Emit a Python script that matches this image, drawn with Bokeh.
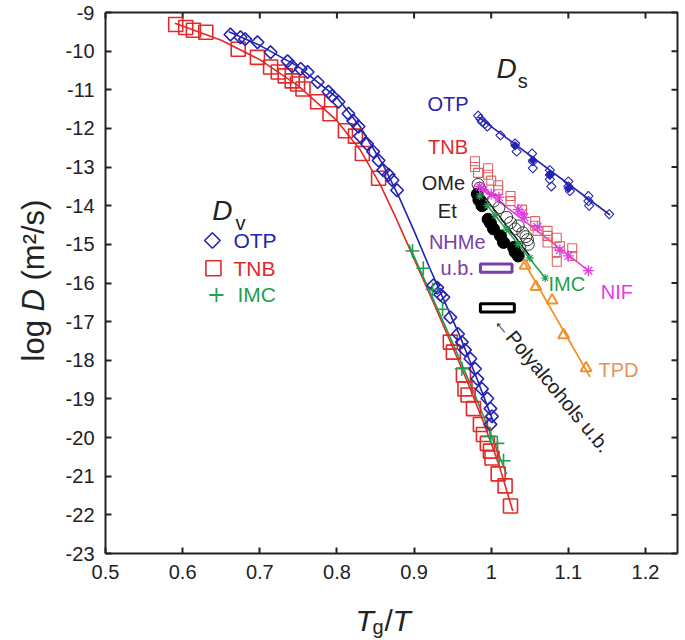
import numpy as np
from bokeh.plotting import figure
from bokeh.models import Label, FixedTicker, Range1d
from bokeh.embed import file_html
from bokeh.resources import INLINE

# ---------------- data ----------------
x_ticks = [0.5, 0.6, 0.7, 0.8, 0.9, 1.0, 1.1, 1.2]
x_tick_labels = ["0.5", "0.6", "0.7", "0.8", "0.9", "1", "1.1", "1.2"]
y_ticks = [-9, -10, -11, -12, -13, -14, -15, -16, -17, -18, -19, -20, -21, -22, -23]
y_tick_labels = ["-9", "-10", "-11", "-12", "-13", "-14", "-15", "-16", "-17", "-18",
                 "-19", "-20", "-21", "-22", "-23"]

# D_v : OTP (diamonds)
otp_v_x = [0.662, 0.675, 0.681, 0.697, 0.714, 0.736, 0.742, 0.753, 0.762, 0.775, 0.789,
           0.794, 0.802, 0.815, 0.821, 0.828, 0.830, 0.839, 0.847, 0.854, 0.860, 0.867,
           0.872, 0.878, 0.925, 0.930, 0.934, 0.938, 0.947, 0.957, 0.962, 0.966, 0.973,
           0.979, 0.982, 0.988, 0.995, 0.999, 1.001, 0.999]
otp_v_y = [-9.57, -9.64, -9.69, -9.77, -10.03, -10.26, -10.39, -10.46, -10.54, -10.80, -11.05,
           -11.16, -11.31, -11.62, -11.80, -11.95, -12.20, -12.40, -12.60, -12.83, -13.08, -13.20,
           -13.34, -13.60, -16.06, -16.12, -16.30, -16.37, -16.89, -17.32, -17.53, -17.73, -17.96,
           -18.22, -18.48, -18.74, -18.99, -19.25, -19.45, -19.66]
# D_v : TNB (squares)
tnb_v_x = [0.591, 0.604, 0.614, 0.630, 0.672, 0.697, 0.714, 0.724, 0.733, 0.742, 0.749,
           0.756, 0.775, 0.791, 0.811, 0.824, 0.833, 0.854, 0.947, 0.951, 0.964, 0.966,
           0.970, 0.977, 0.986, 0.990, 0.995, 0.999, 1.001, 1.009, 1.018, 1.025]
tnb_v_y = [-9.31, -9.39, -9.46, -9.51, -9.95, -10.16, -10.41, -10.54, -10.64, -10.77, -10.85,
           -10.98, -11.31, -11.62, -12.06, -12.20, -12.65, -13.29, -17.53, -17.79, -18.38, -18.74,
           -18.90, -19.25, -19.66, -19.92, -20.15, -20.35, -20.53, -20.94, -21.25, -21.77]
# D_v : IMC (crosses)
imc_v_x = [0.898, 0.912, 0.924, 0.937, 0.962, 0.999, 1.008, 1.016]
imc_v_y = [-15.17, -15.62, -16.17, -16.68, -18.22, -19.97, -20.15, -20.60]

# D_v fitted curves
otp_fit_x = [0.660, 0.700, 0.750, 0.800, 0.830, 0.860, 0.880, 0.900, 0.920, 0.940, 0.960, 0.980, 1.003]
otp_fit_y = [-9.50, -9.85, -10.40, -11.20, -11.95, -12.95, -13.75, -14.65, -15.60, -16.50, -17.40, -18.40, -19.60]
tnb_fit_x = [0.590, 0.650, 0.700, 0.750, 0.800, 0.830, 0.856, 0.875, 0.895, 0.925, 0.947, 0.968, 0.990, 1.010, 1.028]
tnb_fit_y = [-9.28, -9.72, -10.22, -10.90, -11.80, -12.55, -13.45, -14.25, -15.15, -16.50, -17.52, -18.50, -19.60, -20.70, -21.90]
imc_fit_x = [0.893, 0.920, 0.950, 0.980, 1.000, 1.020]
imc_fit_y = [-15.00, -16.20, -17.55, -18.95, -19.95, -20.95]

# D_s : OTP
otp_s_x = [0.983, 0.986, 0.988, 0.992, 0.995, 1.012, 1.031, 1.033, 1.053, 1.054, 1.054, 1.076,
           1.076, 1.076, 1.078, 1.100, 1.100, 1.102, 1.126, 1.126, 1.127, 1.153]
otp_s_y = [-11.67, -11.75, -11.83, -11.88, -11.95, -12.18, -12.39, -12.60, -12.65, -12.85, -13.03,
           -13.08, -13.20, -13.32, -13.50, -13.37, -13.50, -13.62, -13.75, -13.88, -14.00, -14.22]
otp_s_filled_x = [1.031, 1.054, 1.076, 1.100]
otp_s_filled_y = [-12.45, -12.82, -13.20, -13.55]
otp_s_fit_x = [0.983, 1.154]
otp_s_fit_y = [-11.70, -14.24]
# D_s : TNB
tnb_s_x = [0.979, 0.979, 0.983, 0.996, 0.996, 1.000, 1.009, 1.009, 1.025, 1.025, 1.040, 1.057,
           1.057, 1.060, 1.073, 1.073, 1.073, 1.085, 1.085, 1.085, 1.089, 1.105, 1.105]
tnb_s_y = [-12.85, -13.00, -13.15, -13.03, -13.20, -13.35, -13.47, -13.60, -13.75, -13.88, -14.10,
           -14.40, -14.52, -14.65, -14.65, -14.78, -14.95, -14.83, -15.20, -15.45, -15.05, -15.10, -15.30]
# D_s : NIF
nif_x = [0.985, 0.990, 1.000, 1.010, 1.035, 1.040, 1.043, 1.060, 1.089, 1.100, 1.126]
nif_y = [-13.50, -13.60, -13.70, -13.78, -14.10, -14.20, -14.30, -14.55, -15.15, -15.30, -15.68]
nif_fit_x = [0.985, 1.126]
nif_fit_y = [-13.50, -15.68]
# D_s : OMe (open circles) and Et (filled circles)
ome_x = [0.983, 0.985, 0.990, 1.003, 1.010, 1.020, 1.025, 1.031, 1.035, 1.041, 1.045, 1.047, 1.048, 1.037]
ome_y = [-13.45, -13.55, -13.70, -13.88, -14.05, -14.30, -14.44, -14.60, -14.52, -14.70, -14.80, -14.88, -15.00, -15.08]
et_x = [0.982, 0.984, 0.988, 0.996, 0.999, 1.003, 1.012, 1.016, 1.029, 1.031, 1.035]
et_y = [-13.70, -13.85, -14.00, -14.35, -14.45, -14.60, -14.78, -14.95, -15.08, -15.20, -15.30]
black_fit_x = [0.983, 1.050]
black_fit_y = [-13.55, -15.30]
# D_s : IMC
imc_s_x = [0.985, 0.995, 1.005, 1.020, 1.035, 1.050, 1.070]
imc_s_y = [-13.75, -14.00, -14.25, -14.60, -15.00, -15.35, -15.87]
imc_s_fit_x = [0.985, 1.070]
imc_s_fit_y = [-13.75, -15.87]
# D_s : TPD
tpd_x = [1.044, 1.058, 1.079, 1.094, 1.123]
tpd_y = [-15.55, -16.10, -16.45, -17.35, -18.20]
tpd_fit_x = [1.043, 1.128]
tpd_fit_y = [-15.47, -18.43]
# upper bounds (NHMe, polyalcohols)
ub_left = [0.986, 0.986]
ub_right = [1.027, 1.030]
ub_top = [-15.51, -16.54]
ub_bottom = [-15.72, -16.75]

# ---------------- style / layout ----------------
FONT = "Liberation Sans"
BLUE = "#2424b0"
RED = "#e22a2a"
RED_S = "#e06262"
GREEN = "#1f9f4f"
MAGENTA = "#e23ce2"
PURPLE = "#7a3ea8"
ORANGE = "#f0922e"
ORANGE_T = "#e6935a"
DARK = "#222222"

X_MIN, X_MAX, Y_MIN, Y_MAX = 0.5, 1.2415, -23, -9      # the drawn box
W, H = 684, 638
B_LEFT, B_RIGHT, B_TOP, B_BOTTOM = 105, 677, 12, 553   # box edges on the canvas (px)
PX_X = (B_RIGHT - B_LEFT) / (X_MAX - X_MIN)
PX_Y = (B_BOTTOM - B_TOP) / (Y_MAX - Y_MIN)
TICK = 6


def X(px):  # canvas px -> data x
    return X_MIN + (px - B_LEFT) / PX_X


def Y(py):  # canvas py -> data y
    return Y_MAX - (py - B_TOP) / PX_Y


# the frame spans the whole canvas; the axes sit at fixed places inside it,
# so that the titles (drawn as labels) are not clipped away
p = figure(width=W, height=H, x_range=Range1d(X(0), X(W)), y_range=Range1d(Y(H), Y(0)),
           output_backend="svg", toolbar_location=None,
           min_border_left=0, min_border_right=0, min_border_top=0, min_border_bottom=0)
p.title.visible = False
p.background_fill_color = "white"
p.border_fill_color = "white"
p.outline_line_color = None
p.xgrid.grid_line_color = None
p.ygrid.grid_line_color = None

p.xaxis.fixed_location = Y_MIN
p.yaxis.fixed_location = X_MIN
p.xaxis.bounds = (X_MIN, X_MAX)
p.yaxis.bounds = (Y_MIN, Y_MAX)
for ax, ticks, labels in ((p.xaxis[0], x_ticks, x_tick_labels), (p.yaxis[0], y_ticks, y_tick_labels)):
    ax.ticker = FixedTicker(ticks=ticks)
    ax.major_label_overrides = dict(zip(ticks, labels))
    ax.major_tick_in = TICK
    ax.major_tick_out = 0
    ax.major_tick_line_width = 2
    ax.major_tick_line_color = DARK
    ax.minor_tick_line_color = None
    ax.axis_line_color = DARK
    ax.axis_line_width = 2
    ax.major_label_text_font = FONT
    ax.major_label_text_font_size = "20px"
    ax.major_label_text_color = DARK
    ax.major_label_standoff = 11

# box: top and right edges with their inward ticks
p.line([X_MIN, X_MAX, X_MAX], [Y_MAX, Y_MAX, Y_MIN], line_color=DARK, line_width=2)
p.segment(x0=x_ticks, x1=x_ticks, y0=[Y_MAX] * len(x_ticks),
          y1=[Y_MAX - TICK / PX_Y] * len(x_ticks), line_color=DARK, line_width=2)
p.segment(x0=[X_MAX] * len(y_ticks), x1=[X_MAX - TICK / PX_X] * len(y_ticks),
          y0=y_ticks, y1=y_ticks, line_color=DARK, line_width=2)

# curves
p.line(otp_fit_x, otp_fit_y, line_color=BLUE, line_width=1.6)
p.line(tnb_fit_x, tnb_fit_y, line_color=RED, line_width=1.6)
p.line(imc_fit_x, imc_fit_y, line_color=GREEN, line_width=1.6)
p.line(otp_s_fit_x, otp_s_fit_y, line_color=BLUE, line_width=1.6)
p.line(nif_fit_x, nif_fit_y, line_color=MAGENTA, line_width=1.6)
p.line(black_fit_x, black_fit_y, line_color="black", line_width=1.4)
p.line(imc_s_fit_x, imc_s_fit_y, line_color=GREEN, line_width=1.6)
p.line(tpd_fit_x, tpd_fit_y, line_color=ORANGE, line_width=1.8)

# D_v markers
p.scatter(tnb_v_x, tnb_v_y, marker="square", size=14, fill_color=None, line_color=RED, line_width=1.6)
p.scatter(otp_v_x, otp_v_y, marker="square", angle=np.pi / 4, size=9, fill_color=None,
          line_color=BLUE, line_width=1.6)
p.scatter(imc_v_x, imc_v_y, marker="cross", size=14, line_color=GREEN, line_width=1.6)

# D_s markers
p.scatter(tnb_s_x, tnb_s_y, marker="square", size=9, fill_color=None, line_color=RED_S, line_width=1.1)
p.scatter(otp_s_x, otp_s_y, marker="square", angle=np.pi / 4, size=6.5, fill_color=None,
          line_color=BLUE, line_width=1.1)
p.scatter(otp_s_filled_x, otp_s_filled_y, marker="square", angle=np.pi / 4, size=6,
          fill_color=BLUE, line_color=BLUE, line_width=1)
p.scatter(ome_x, ome_y, marker="circle", size=12, fill_color=None, line_color="#333333", line_width=1)
p.scatter(et_x, et_y, marker="circle", size=12, fill_color="black", line_color="black")
p.scatter(nif_x, nif_y, marker="asterisk", size=11, line_color=MAGENTA, line_width=1.3)
p.scatter(imc_s_x, imc_s_y, marker="asterisk", size=8, line_color=GREEN, line_width=1.2)
p.scatter(tpd_x, tpd_y, marker="triangle", size=11, fill_color=None, line_color=ORANGE, line_width=2)
p.quad(left=ub_left, right=ub_right, top=ub_top, bottom=ub_bottom, fill_color="white",
       line_color=[PURPLE, "black"], line_width=3)


def lab(x, y, text, size, color, align="center", baseline="middle", style="normal", angle=0.0):
    p.add_layout(Label(x=x, y=y, text=text, text_font=FONT, text_font_size=f"{size}px",
                       text_color=color, text_align=align, text_baseline=baseline,
                       text_font_style=style, angle=angle))


# D_s block labels
lab(1.020, -10.45, "D", 28, DARK, style="italic")
lab(1.041, -10.76, "s", 20, DARK)
lab(0.944, -11.36, "OTP", 20, BLUE)
lab(0.944, -12.47, "TNB", 20, RED)
lab(0.938, -13.42, "OMe", 20, DARK)
lab(0.943, -14.13, "Et", 20, DARK)
lab(0.956, -14.95, "NHMe", 20, PURPLE)
lab(0.956, -15.60, "u.b.", 20, PURPLE)
lab(1.163, -16.24, "NIF", 20, MAGENTA)
lab(1.098, -16.03, "IMC", 20, GREEN)
lab(1.165, -18.24, "TPD", 20, ORANGE_T)
lab(1.008, -16.90, "\u2190Polyalcohols u.b.", 20, DARK, align="left", angle=-0.879)

# D_v block labels and key
lab(0.6516, -14.13, "D", 28, DARK, style="italic")
lab(0.6749, -14.44, "v", 20, DARK)
p.scatter([0.6386], [-14.90], marker="square", angle=np.pi / 4, size=11, fill_color=None,
          line_color=BLUE, line_width=1.6)
p.scatter([0.6399], [-15.62], marker="square", size=15, fill_color=None, line_color=RED, line_width=1.6)
p.scatter([0.6438], [-16.31], marker="cross", size=14, line_color=GREEN, line_width=1.8)
lab(0.6658, -14.90, "OTP", 21, BLUE, align="left")
lab(0.6658, -15.62, "TNB", 21, RED, align="left")
lab(0.6710, -16.31, "IMC", 21, GREEN, align="left")

# axis titles (in pieces so that the variable letters can be italic)
lab(X(33), Y(361), "log", 31, DARK, align="left", baseline="alphabetic", angle=np.pi / 2)
lab(X(33), Y(311), "D", 31, DARK, align="left", baseline="alphabetic", style="italic", angle=np.pi / 2)
lab(X(33), Y(280), "(m\u00b2/s)", 31, DARK, align="left", baseline="alphabetic", angle=np.pi / 2)

lab(X(355), Y(620), "T", 30, DARK, align="left", baseline="alphabetic", style="italic")
lab(X(372), Y(626), "g", 20, DARK, align="left", baseline="alphabetic")
lab(X(384), Y(620), "/", 30, DARK, align="left", baseline="alphabetic")
lab(X(392), Y(620), "T", 30, DARK, align="left", baseline="alphabetic", style="italic")

open("out.html", "w").write(file_html(p, INLINE))
